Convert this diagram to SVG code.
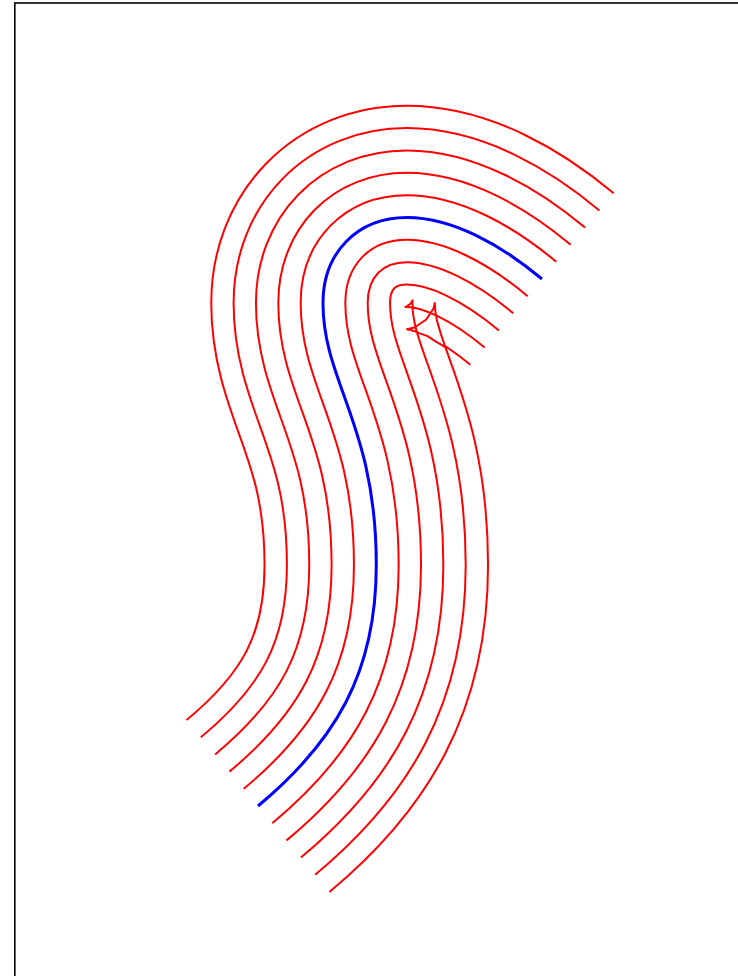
<svg xmlns="http://www.w3.org/2000/svg" xmlns:xlink="http://www.w3.org/1999/xlink" width="738" height="976" viewBox="0 0 738 976">
<style>
.r{fill:none;stroke:#ff0000;stroke-linecap:butt;stroke-linejoin:round}
.w{fill:none;stroke:#ffffff;stroke-linecap:butt;stroke-linejoin:round}
.b{fill:none;stroke:#0000ff;stroke-width:3;stroke-linecap:butt}
.t{fill:none;stroke:#ff0000;stroke-width:2;stroke-linejoin:round;stroke-linecap:butt}
.frame{fill:none;stroke:#000000;stroke-width:1.6}
</style>
<defs>
<path id="c" d="M258,806 C334.9,742.1 376.3,673 376.3,565 C376.3,425 323,383 323,303 C323,253 357,217.5 407,217.5 C452,217.5 500.97,244.7 542,279"/>
<path id="cw" d="M256.46,807.28 L258,806 C334.9,742.1 376.3,673 376.3,565 C376.3,425 323,383 323,303 C323,253 357,217.5 407,217.5 C452,217.5 500.97,244.7 542,279 L543.53,280.28"/>
</defs>
<rect width="738" height="976" fill="#ffffff"/>
<rect class="frame" x="14.8" y="3" width="800" height="1000"/>
<g id="offsets">
<use xlink:href="#c" class="r" stroke-width="225.5"/>
<use xlink:href="#cw" class="w" stroke-width="221.5"/>
<use xlink:href="#c" class="r" stroke-width="180.8"/>
<use xlink:href="#cw" class="w" stroke-width="176.8"/>
<use xlink:href="#c" class="r" stroke-width="136.1"/>
<use xlink:href="#cw" class="w" stroke-width="132.1"/>
<use xlink:href="#c" class="r" stroke-width="91.4"/>
<use xlink:href="#cw" class="w" stroke-width="87.4"/>
<use xlink:href="#c" class="r" stroke-width="46.7"/>
<use xlink:href="#cw" class="w" stroke-width="42.7"/>
</g>
<g id="swallowtails">
<path class="t" d="M415.4,308.1 L410.4,307.2 L407,306.9 L405.6,306.9 L405.4,307 L406.1,306.8 L410.3,303.9 L412.6,300.5 L412.6,300.3 L412.5,301 L412.4,303 L413,308.5"/>
<path class="t" d="M445.4,347.2 L443.6,346.1 L435.2,341.1 L427.5,336.1 L420.5,333.6 L414.8,331.3 L410.6,330 L407.9,329.4 L407,329.25 L414.5,327.5 L426.25,319.5 L433.5,308.5 L434.75,303 L435.4,311.6 L437.1,321.1 L440.9,334.1 L445.4,347.2"/>
</g>
<g id="curve">
<use xlink:href="#c" class="b"/>
</g>
</svg>
